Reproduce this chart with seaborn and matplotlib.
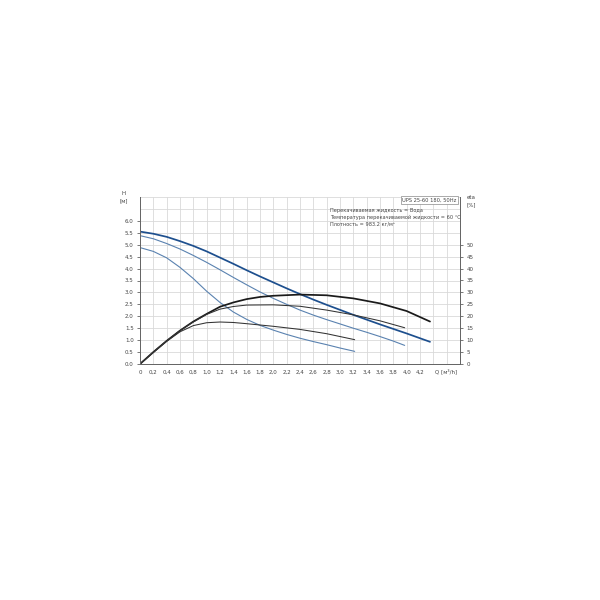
import numpy as np
import pandas as pd
import seaborn as sns
import matplotlib.pyplot as plt

# pump curves (Q in m3/h, H in m, eta in %)
q_h3 = [0, 0.2, 0.4, 0.6, 0.8, 1.0, 1.2, 1.4, 1.6, 1.8, 2.0, 2.2, 2.4, 2.6, 2.8, 3.0, 3.2, 3.4, 3.6, 3.8, 4.0, 4.2, 4.35]
h3 = [5.55, 5.46, 5.33, 5.15, 4.95, 4.72, 4.46, 4.2, 3.93, 3.67, 3.42, 3.17, 2.93, 2.7, 2.48, 2.27, 2.06, 1.86, 1.66, 1.47, 1.28, 1.08, 0.93]

q_h2 = [0, 0.2, 0.4, 0.6, 0.8, 1.0, 1.2, 1.4, 1.6, 1.8, 2.0, 2.2, 2.4, 2.6, 2.8, 3.0, 3.2, 3.4, 3.6, 3.8, 3.97]
h2 = [5.38, 5.25, 5.05, 4.82, 4.55, 4.26, 3.95, 3.63, 3.32, 3.02, 2.75, 2.5, 2.26, 2.05, 1.86, 1.68, 1.5, 1.33, 1.15, 0.96, 0.78]

q_h1 = [0, 0.2, 0.4, 0.6, 0.8, 1.0, 1.2, 1.4, 1.6, 1.8, 2.0, 2.2, 2.4, 2.6, 2.8, 3.0, 3.22]
h1 = [4.88, 4.72, 4.45, 4.05, 3.58, 3.05, 2.58, 2.18, 1.87, 1.62, 1.42, 1.24, 1.08, 0.94, 0.81, 0.67, 0.53]

q_e3 = [0, 0.2, 0.4, 0.6, 0.8, 1.0, 1.2, 1.4, 1.6, 1.8, 2.0, 2.4, 2.8, 3.2, 3.6, 4.0, 4.35]
eta3 = [0, 5, 9.7, 14, 17.8, 21, 24, 25.8, 27.2, 28.1, 28.6, 29.1, 28.8, 27.5, 25.4, 22.2, 17.8]

q_e2 = [0, 0.2, 0.4, 0.6, 0.8, 1.0, 1.2, 1.4, 1.6, 2.0, 2.4, 2.8, 3.2, 3.6, 3.97]
eta2 = [0, 5, 9.7, 14, 17.6, 20.8, 23, 24.1, 24.7, 24.8, 24.2, 22.6, 20.6, 18.1, 15.2]

q_e1 = [0, 0.2, 0.4, 0.6, 0.8, 1.0, 1.2, 1.4, 1.6, 2.0, 2.4, 2.8, 3.22]
eta1 = [0, 4.8, 9.5, 13.5, 16.1, 17.3, 17.6, 17.4, 16.9, 15.8, 14.5, 12.7, 10.2]

x_ticks = np.round(np.arange(0, 4.21, 0.2), 1)
y_ticks = np.arange(0, 6.01, 0.5)
eta_ticks = np.arange(0, 51, 5)

info_lines = [
    "Перекачиваемая жидкость = Вода",
    "Температура перекачиваемой жидкости = 60 °C",
    "Плотность = 983.2 кг/м³",
]


def curve_frame(q, v, name):
    return pd.DataFrame({"Q": q, "val": v, "curve": name})


def q_label(v):
    return "0" if v == 0 else ("%.1f" % v).replace(".", ",")


def main():
    sns.set_style("white")
    plt.rcParams["font.family"] = ["DejaVu Sans"]

    fig = plt.figure(figsize=(6, 6), dpi=100)
    ax = fig.add_axes([140 / 600, 1 - 364 / 600, 320 / 600, 167 / 600])
    ax2 = ax.twinx()

    dark_blue = "#1d4f8e"
    light_blue = "#5a82b0"

    sns.lineplot(data=curve_frame(q_h3, h3, "h3"), x="Q", y="val", ax=ax, color=dark_blue, lw=1.25)
    sns.lineplot(data=curve_frame(q_h2, h2, "h2"), x="Q", y="val", ax=ax, color=light_blue, lw=0.8)
    sns.lineplot(data=curve_frame(q_h1, h1, "h1"), x="Q", y="val", ax=ax, color=light_blue, lw=0.8)

    sns.lineplot(data=curve_frame(q_e3, eta3, "e3"), x="Q", y="val", ax=ax2, color="#1a1a1a", lw=1.25)
    sns.lineplot(data=curve_frame(q_e2, eta2, "e2"), x="Q", y="val", ax=ax2, color="#333333", lw=0.75)
    sns.lineplot(data=curve_frame(q_e1, eta1, "e1"), x="Q", y="val", ax=ax2, color="#333333", lw=0.75)

    ax.set_xlim(0, 4.8)
    ax.set_ylim(0, 7)
    ax2.set_ylim(0, 70)

    ax.set_xticks(x_ticks)
    ax.set_xticklabels([q_label(v) for v in x_ticks])
    ax.set_yticks(y_ticks)
    ax.set_yticklabels(["%.1f" % v for v in y_ticks])
    ax2.set_yticks(eta_ticks)
    ax2.set_yticklabels([str(v) for v in eta_ticks])

    # grid (minor ticks cover the part beyond the labelled range)
    ax.set_xticks(np.arange(4.4, 4.81, 0.2), minor=True)
    ax.set_yticks([6.5, 7.0], minor=True)
    ax.grid(which="both", color="#d9d9d9", lw=0.6)
    ax.set_axisbelow(True)

    for a in (ax, ax2):
        a.tick_params(labelsize=4, colors="#444444", length=2.5, width=0.5, pad=2)
        a.set_xlabel("")
        a.set_ylabel("")
        a.spines["top"].set_visible(False)
        for s in ("left", "right", "bottom"):
            a.spines[s].set_color("#666666")
            a.spines[s].set_linewidth(0.7)
    ax.tick_params(which="minor", length=0)

    ax.text(-0.05, 1.0, "H\n[м]", transform=ax.transAxes, fontsize=4,
            color="#444444", ha="center", va="center", linespacing=1.5)
    ax.text(1.02, 0.976, "eta\n[%]", transform=ax.transAxes, fontsize=4,
            color="#444444", ha="left", va="center", linespacing=1.5)
    ax.text(0.955, -0.025, "Q [м³/h]", transform=ax.transAxes, fontsize=4,
            color="#444444", ha="center", va="top")

    ax.text(0.99, 0.995, "UPS 25-60 180, 50Hz", transform=ax.transAxes, fontsize=3.7,
            color="#444444", ha="right", va="top",
            bbox=dict(boxstyle="square,pad=0.3", fc="white", ec="#888888", lw=0.5))
    ax.text(0.594, 0.935, "\n".join(info_lines), transform=ax.transAxes, fontsize=3.6,
            color="#444444", ha="left", va="top", linespacing=1.45)

    fig.savefig("out.png", dpi=100)


if __name__ == "__main__":
    main()
